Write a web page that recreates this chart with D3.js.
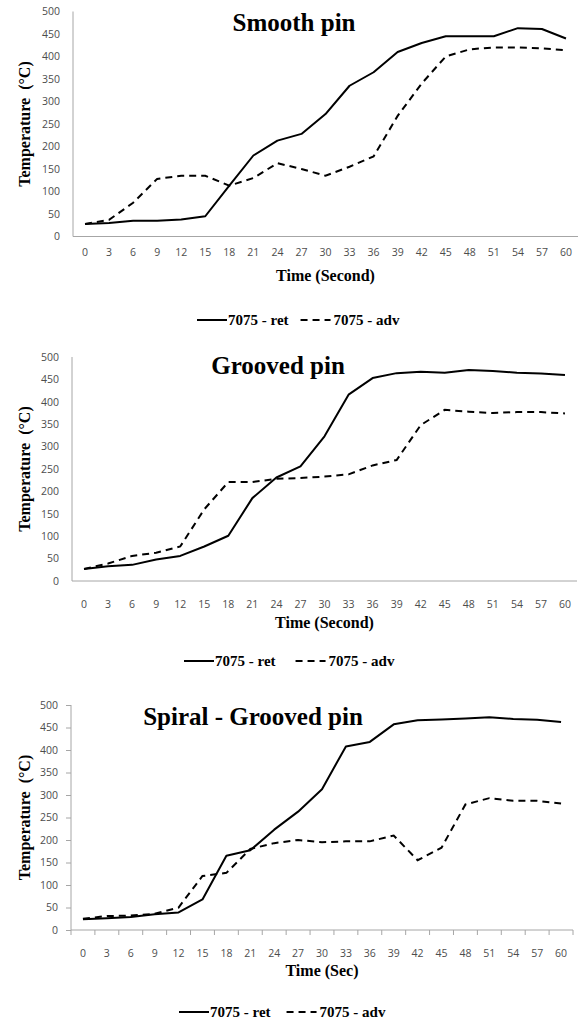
<!DOCTYPE html>
<html>
<head>
<meta charset="utf-8">
<script src="https://cdn.jsdelivr.net/npm/d3@7"></script>
<style>
  html, body { margin: 0; padding: 0; background: #fff; }
  svg { display: block; }
</style>
</head>
<body>
<svg id="chart" width="581" height="1025"></svg>
<script>
// Time stamps (s) shared by all three panels
const times = [0, 3, 6, 9, 12, 15, 18, 21, 24, 27, 30, 33, 36, 39, 42, 45, 48, 51, 54, 57, 60];
const yTicks = [0, 50, 100, 150, 200, 250, 300, 350, 400, 450, 500];
const seriesNames = ["7075 - ret", "7075 - adv"];

// Smooth pin temperatures (°C)
const smoothRet = [28, 30, 35, 35, 38, 45, 113, 180, 213, 228, 272, 335, 365, 410, 430, 445, 445, 445, 463, 461, 440];
const smoothAdv = [28, 37, 75, 128, 135, 135, 113, 130, 163, 150, 135, 155, 178, 268, 340, 400, 416, 420, 420, 418, 414];

// Grooved pin temperatures (°C)
const groovedRet = [27, 33, 36, 48, 56, 77, 101, 185, 231, 256, 323, 416, 453, 464, 467, 465, 471, 469, 465, 463, 460];
const groovedAdv = [27, 39, 56, 63, 77, 160, 221, 221, 228, 230, 233, 238, 258, 270, 348, 382, 378, 375, 377, 377, 374];

// Spiral - grooved pin temperatures (°C)
const spiralRet = [24, 26, 29, 35, 39, 68, 165, 177, 223, 263, 313, 408, 418, 457, 466, 468, 470, 473, 469, 467, 462];
const spiralAdv = [25, 31, 32, 36, 50, 120, 127, 180, 193, 200, 195, 197, 197, 210, 155, 183, 279, 293, 287, 287, 281];

const panels = [
  { title: "Smooth pin", xTitle: "Time (Second)", ret: smoothRet, adv: smoothAdv,
    left: 73, right: 578, yTop: 11.5, yBottom: 236.5, titleX: 294, titleY: 31,
    tickY: 252, xTitleY: 281, legendY: 320, legendX: 197, legendGap: 12, ticks: false },
  { title: "Grooved pin", xTitle: "Time (Second)", ret: groovedRet, adv: groovedAdv,
    left: 72, right: 577, yTop: 357, yBottom: 581, titleX: 278, titleY: 374,
    tickY: 604, xTitleY: 628, legendY: 661, legendX: 184, legendGap: 20, ticks: false },
  { title: "Spiral - Grooved pin", xTitle: "Time (Sec)", ret: spiralRet, adv: spiralAdv,
    left: 71, right: 573, yTop: 705, yBottom: 930, titleX: 253, titleY: 725,
    tickY: 953, xTitleY: 976, legendY: 1012, legendX: 179, legendGap: 16, ticks: true }
];

const svg = d3.select("#chart");
const serif = "'Liberation Serif', 'Times New Roman', serif";
const sans = "'Open Sans', 'DejaVu Sans', sans-serif";
const axisGrey = "#a6a6a6";
const labelGrey = "#4d4d4d";

panels.forEach(p => {
  const g = svg.append("g");
  const x = d3.scaleBand().domain(times).range([p.left, p.right]).paddingInner(0).paddingOuter(0);
  const y = d3.scaleLinear().domain([0, 500]).range([p.yBottom, p.yTop]);
  const cx = t => x(t) + x.bandwidth() / 2;

  // y axis
  const yAxis = d3.axisLeft(y).tickValues(yTicks).tickSize(p.ticks ? 5 : 0).tickPadding(p.ticks ? 8 : 13);
  const ya = g.append("g").attr("transform", `translate(${p.left},0)`).call(yAxis);
  ya.select(".domain").attr("stroke", axisGrey).attr("stroke-width", 1).attr("d", `M0,${p.yBottom}V${p.yTop}`);
  ya.selectAll(".tick line").attr("stroke", axisGrey);
  ya.selectAll(".tick text").attr("fill", labelGrey).style("font-family", sans).style("font-size", "10.5px");

  // x axis (category bands)
  const xAxis = d3.axisBottom(x).tickSize(0).tickPadding(0).tickFormat(d3.format("d"));
  const xa = g.append("g").attr("transform", `translate(0,${p.yBottom})`).call(xAxis);
  xa.select(".domain").attr("stroke", axisGrey).attr("stroke-width", 1).attr("d", `M${p.left},0H${p.right}`);
  xa.selectAll(".tick text")
    .attr("y", p.tickY - p.yBottom).attr("dy", "0.35em")
    .attr("fill", labelGrey).style("font-family", sans).style("font-size", "10.5px");
  if (p.ticks) {
    const edges = times.map(t => x(t)).concat([p.right]);
    xa.selectAll(".edge").data(edges).join("line")
      .attr("x1", d => d).attr("x2", d => d).attr("y1", 0).attr("y2", 5)
      .attr("stroke", axisGrey);
  }

  // data lines
  const line = d3.line().x((d, i) => cx(times[i])).y(d => y(d));
  g.append("path").datum(p.ret).attr("d", line)
    .attr("fill", "none").attr("stroke", "#000").attr("stroke-width", 2).attr("stroke-linejoin", "round");
  g.append("path").datum(p.adv).attr("d", line)
    .attr("fill", "none").attr("stroke", "#000").attr("stroke-width", 2).attr("stroke-dasharray", "7,5");

  // titles
  g.append("text").attr("x", p.titleX).attr("y", p.titleY).attr("text-anchor", "middle")
    .style("font-family", serif).style("font-weight", "bold").style("font-size", "25px").text(p.title);
  g.append("text").attr("x", (p.left + p.right) / 2).attr("y", p.xTitleY).attr("text-anchor", "middle")
    .style("font-family", serif).style("font-weight", "bold").style("font-size", "16px").text(p.xTitle);
  g.append("text")
    .attr("transform", `translate(30,${(p.yTop + p.yBottom) / 2}) rotate(-90)`)
    .attr("text-anchor", "middle")
    .style("white-space", "pre")
    .style("font-family", serif).style("font-weight", "bold").style("font-size", "16px")
    .text("Temperature  (°C)");

  // legend
  const lg = g.append("g").attr("transform", `translate(${p.legendX},${p.legendY})`);
  lg.append("line").attr("x1", 0).attr("x2", 30).attr("y1", 0).attr("y2", 0)
    .attr("stroke", "#000").attr("stroke-width", 2);
  const t1 = lg.append("text").attr("x", 31).attr("y", 5)
    .style("font-family", serif).style("font-weight", "bold").style("font-size", "15px").text(seriesNames[0]);
  const w1 = t1.node().getComputedTextLength();
  const dx = 31 + w1 + p.legendGap;
  lg.append("line").attr("x1", dx).attr("x2", dx + 30).attr("y1", 0).attr("y2", 0)
    .attr("stroke", "#000").attr("stroke-width", 2).attr("stroke-dasharray", "7,5");
  lg.append("text").attr("x", dx + 33).attr("y", 5)
    .style("font-family", serif).style("font-weight", "bold").style("font-size", "15px").text(seriesNames[1]);
});
</script>
</body>
</html>
